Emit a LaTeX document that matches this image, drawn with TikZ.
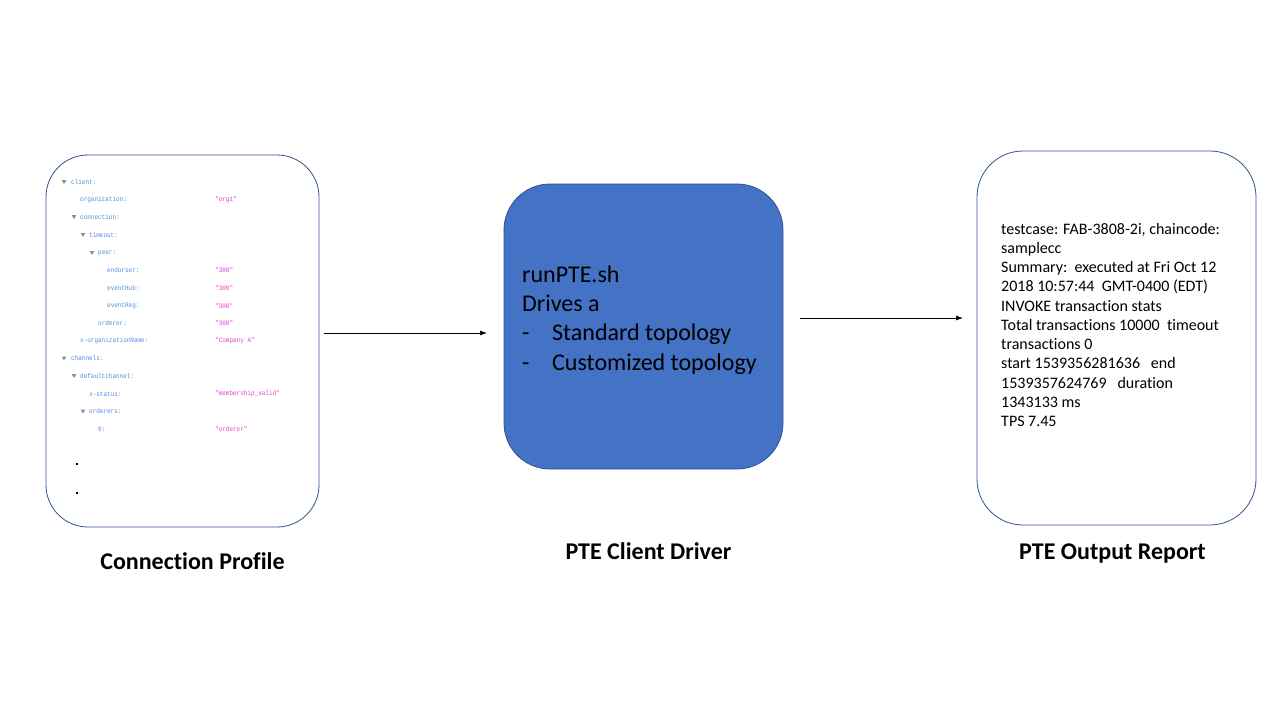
\documentclass[tikz,border=0pt]{standalone}
\usepackage{fontspec}
\setmainfont[Ligatures=NoCommon]{Carlito}
\newfontfamily\codefont[FakeStretch=0.88]{Liberation Mono}
\usetikzlibrary{arrows.meta}
\definecolor{boxline}{HTML}{2F528F}
\definecolor{boxfill}{HTML}{4472C4}
\definecolor{keyc}{HTML}{4A8FE0}
\definecolor{valc}{HTML}{E040C8}
\definecolor{tric}{HTML}{909090}
\tikzset{
  panel/.style={draw=boxline, line width=0.8pt, rounded corners=42pt},
  flow/.style={-{Latex[length=7pt,width=5pt]}, line width=0.7pt},
  title/.style={font=\fontsize{24}{28}\selectfont\bfseries, anchor=base, inner sep=0pt},
  ckey/.style={font=\codefont\fontsize{6.8}{8}\selectfont, text=keyc, anchor=west, inner sep=0pt},
  cval/.style={font=\codefont\fontsize{6.8}{8}\selectfont, text=valc, anchor=west, inner sep=0pt},
}
\newcommand{\ctri}[2]{\fill[tric] (#1-2.4,#2-2) -- (#1+2.4,#2-2) -- (#1,#2+2) -- cycle;}
\begin{document}
\begin{tikzpicture}[x=1pt,y=-1pt]
\useasboundingbox (0,0) rectangle (1280,720);
% boxes
\node[panel, minimum width=273pt, minimum height=372pt, inner sep=0pt] (cp) at (182.5,341) {};
\node[panel, fill=boxfill, minimum width=279pt, minimum height=285pt, inner sep=0pt, rounded corners=46pt] (drv) at (643.5,326.5) {};
\node[panel, minimum width=279pt, minimum height=374pt, inner sep=0pt, rounded corners=46pt] (rep) at (1116.5,338) {};
% code lines
\ctri{64}{182}
\node[ckey] (k1) at (71,182) {client:};
\node[ckey] (k2) at (80,199.5) {organization:};
\node[cval] (v2) at (215,199.5) {"org1"};
\ctri{74}{217}
\node[ckey] (k3) at (80,217) {connection:};
\ctri{83}{235}
\node[ckey] (k4) at (89,235) {timeout:};
\ctri{92}{253}
\node[ckey] (k5) at (98,253) {peer:};
\node[ckey] (k6) at (107,270.5) {endorser:};
\node[cval] (v6) at (215,270.5) {"300"};
\node[ckey] (k7) at (107,288) {eventHub:};
\node[cval] (v7) at (215,288) {"300"};
\node[ckey] (k8) at (107,306) {eventReg:};
\node[cval] (v8) at (215,306) {"300"};
\node[ckey] (k9) at (98,323.5) {orderer:};
\node[cval] (v9) at (215,323.5) {"300"};
\node[ckey] (k10) at (80,341) {x-organizationName:};
\node[cval] (v10) at (215,341) {"Company A"};
\ctri{64}{358.5}
\node[ckey] (k11) at (71,358.5) {channels:};
\ctri{74}{376}
\node[ckey] (k12) at (80,376) {defaultchannel:};
\node[ckey] (k13) at (89,394) {x-status:};
\node[cval] (v13) at (215,394) {"membership\_valid"};
\ctri{83}{411.5}
\node[ckey] (k14) at (89,411.5) {orderers:};
\node[ckey] (k15) at (98,429) {0:};
\node[cval] (v15) at (215,429) {"orderer"};
\fill (76,463) rectangle (78.2,465.2);
\fill (76,492) rectangle (78.2,494.2);
% driver text (anchored at last baseline)
\node[anchor=base west, inner sep=0pt, align=left, font=\fontsize{24}{29.3}\selectfont] (dtxt) at (522,370)
  {runPTE.sh\\Drives a\\\makebox[30pt][l]{-}Standard topology\\\makebox[30pt][l]{-}Customized topology};
% report text (anchored at last baseline)
\node[anchor=base west, inner sep=0pt, align=left, font=\fontsize{16}{19.25}\selectfont] (rtxt) at (1001,426.5)
  {testcase: FAB-3808-2i, chaincode:\\samplecc\\Summary:\ \ executed at Fri Oct 12\\2018 10:57:44\ \ GMT-0400 (EDT)\\INVOKE transaction stats\\Total transactions 10000\ \ timeout\\transactions 0\\start 1539356281636\ \ \ end\\1539357624769\ \ \ duration\\1343133 ms\\TPS 7.45};
% titles
\node[title] (t1) at (192.5,569) {Connection Profile};
\node[title] (t2) at (648.5,559) {PTE Client Driver};
\node[title] (t3) at (1112.5,559) {PTE Output Report};
% arrows
\coordinate (a1s) at (324,333);
\coordinate (a1e) at (487,333);
\coordinate (a2s) at (800,318);
\coordinate (a2e) at (963,318);
\draw[flow] (a1s) -- (a1e);
\draw[flow] (a2s) -- (a2e);
\end{tikzpicture}
\end{document}
